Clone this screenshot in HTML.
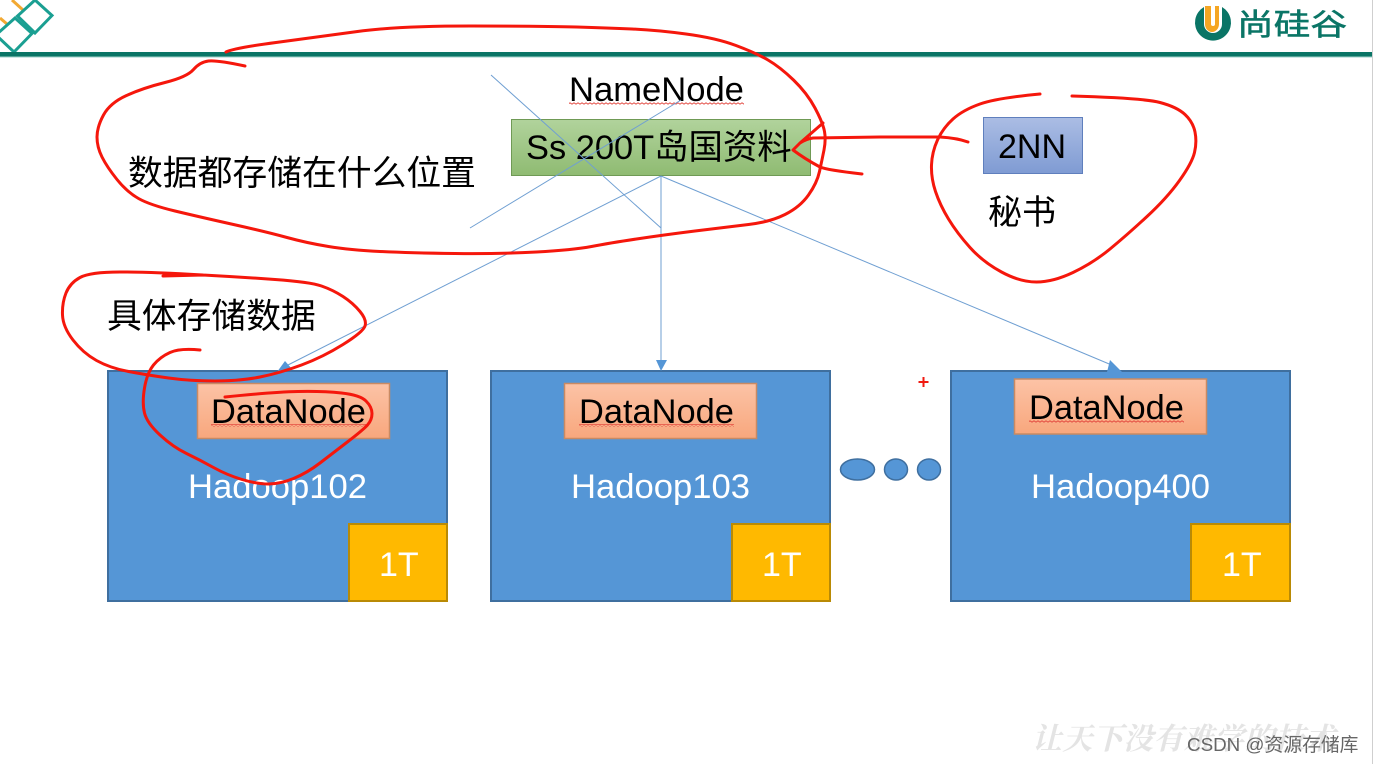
<!DOCTYPE html>
<html lang="zh">
<head>
<meta charset="utf-8">
<style>
html,body{margin:0;padding:0;background:#fff;width:1373px;height:764px;overflow:hidden}
svg{display:block}
text{font-family:"Liberation Sans","Noto Sans CJK SC",sans-serif}
.r{fill:none;stroke:#f5170c;stroke-width:3;stroke-linecap:round;stroke-linejoin:round}
.c{stroke:#6f9fd2;stroke-width:1;fill:none}
</style>
</head>
<body>
<svg width="1373" height="764" viewBox="0 0 1373 764" xmlns="http://www.w3.org/2000/svg">
<defs>
<linearGradient id="g" x1="0" y1="0" x2="0" y2="1"><stop offset="0" stop-color="#b1d39c"/><stop offset="1" stop-color="#8fbb72"/></linearGradient>
<linearGradient id="o" x1="0" y1="0" x2="0" y2="1"><stop offset="0" stop-color="#fcc3a6"/><stop offset="1" stop-color="#f8a77d"/></linearGradient>
<linearGradient id="b" x1="0" y1="0" x2="0" y2="1"><stop offset="0" stop-color="#abbde4"/><stop offset="1" stop-color="#7f9bd3"/></linearGradient>
<pattern id="wv" width="4" height="3" patternUnits="userSpaceOnUse"><path d="M0 2.200L2 0.800L4 2.200" fill="none" stroke="#e2453c" stroke-width="0.900"/></pattern>
</defs>
<rect width="1373" height="764" fill="#fff"/>
<rect x="1372" y="0" width="1" height="764" fill="#cfcfcf"/>

<!-- header -->
<path d="M0 18L7 24M12 0L23 10" fill="none" stroke="#f2a933" stroke-width="3"/>
<path d="M35 0L52 15.500L35 33L17.500 16Z" fill="none" stroke="#1a9f92" stroke-width="3"/>
<path d="M15 18L32 33.500L14 52L-4 35Z" fill="none" stroke="#1a9f92" stroke-width="3"/>
<rect x="0" y="52" width="1372" height="4.500" fill="#0a7566"/>
<rect x="0" y="56.500" width="1372" height="1" fill="#9fd2cb"/>
<path d="M1204 7A18 18 0 1 0 1222 7L1222 24A9 9 0 0 1 1204 24Z" fill="#0a7566"/>
<path d="M1205 6H1211V24A2 2 0 0 0 1215 24V6H1219V24A7 8 0 0 1 1205 24Z" fill="#f5a623"/>
<text x="1237" y="35" font-size="30" fill="#0a7566" stroke="#0a7566" stroke-width="0.500" textLength="110" lengthAdjust="spacingAndGlyphs">尚硅谷</text>

<!-- name node -->
<text x="569" y="101" font-size="34.600" fill="#000">NameNode</text>
<rect x="569" y="102" width="175" height="3" fill="url(#wv)"/>
<rect x="511.500" y="119.500" width="299" height="56" fill="url(#g)" stroke="#6f9a55"/>
<text x="526" y="159" font-size="34.400" fill="#000">Ss 200T岛国资料</text>
<text x="128" y="185" font-size="34.800" fill="#000">数据都存储在什么位置</text>

<!-- 2NN -->
<rect x="983.500" y="117.500" width="99" height="56" fill="url(#b)" stroke="#5f7fbd"/>
<text x="998" y="158" font-size="34" fill="#000">2NN</text>
<text x="988" y="224" font-size="34" fill="#000">秘书</text>
<text x="107" y="328" font-size="34.800" fill="#000">具体存储数据</text>

<!-- connectors -->
<line class="c" x1="491" y1="75" x2="661" y2="228"/>
<line class="c" x1="681" y1="100" x2="470" y2="228"/>
<line class="c" x1="661" y1="176" x2="284" y2="367"/>
<line class="c" x1="661" y1="176" x2="661" y2="364"/>
<line class="c" x1="661" y1="176" x2="1114" y2="366"/>

<!-- data boxes -->
<g stroke="#3f6f9f" stroke-width="2" fill="#5596d6">
<rect x="108" y="371" width="339" height="230"/>
<rect x="491" y="371" width="339" height="230"/>
<rect x="951" y="371" width="339" height="230"/>
</g>
<path d="M285 361L277 372L292 369Z" fill="#5596d6"/>
<path d="M656 360H667L661 371Z" fill="#5596d6"/>
<path d="M1110 360L1122 372H1107Z" fill="#5596d6"/>

<g stroke="#b98a05" stroke-width="2" fill="#ffb900">
<rect x="349" y="524" width="98" height="77"/>
<rect x="732" y="524" width="98" height="77"/>
<rect x="1191" y="524" width="99" height="77"/>
</g>
<g stroke="#c98a63" stroke-width="1.500" fill="url(#o)">
<rect x="197.500" y="383.500" width="192" height="55"/>
<rect x="564.500" y="383.500" width="192" height="55"/>
<rect x="1014.500" y="379" width="192" height="55"/>
</g>
<g font-size="34.400" fill="#000">
<text x="211" y="423">DataNode</text>
<text x="579" y="423">DataNode</text>
<text x="1029" y="419">DataNode</text>
</g>
<rect x="211" y="424" width="155" height="3" fill="url(#wv)"/>
<rect x="579" y="424" width="155" height="3" fill="url(#wv)"/>
<rect x="1029" y="420" width="155" height="3" fill="url(#wv)"/>
<g font-size="34" fill="#fff">
<text x="188" y="498" textLength="179" lengthAdjust="spacingAndGlyphs">Hadoop102</text>
<text x="571" y="498" textLength="179" lengthAdjust="spacingAndGlyphs">Hadoop103</text>
<text x="1031" y="498" textLength="179" lengthAdjust="spacingAndGlyphs">Hadoop400</text>
<text x="379" y="576">1T</text>
<text x="762" y="576">1T</text>
<text x="1222" y="576">1T</text>
</g>
<g fill="#5596d6" stroke="#3f6f9f" stroke-width="1.500">
<ellipse cx="857.500" cy="469.500" rx="17" ry="10.500"/>
<ellipse cx="896" cy="469.500" rx="11.500" ry="10.500"/>
<ellipse cx="929" cy="469.500" rx="11.500" ry="10.500"/>
</g>
<path d="M918.500 382H928.500M923.500 377V387" stroke="#f01a10" stroke-width="2"/>

<!-- red ink -->
<path class="r" d="M226 52Q234 48 276 42.500Q318 37 357.500 31.500Q397 26 471 26Q545 26 576.500 27Q608 28 632 29Q656 30 686 34Q716 38 736 45.500Q756 53 768 60Q780 67 793.500 80Q807 93 815 108Q823 123 824.500 131.500Q826 140 824 150Q822 160 819.500 171.500Q817 183 808.500 195Q800 207 785 214.500Q770 222 748.500 224.500Q727 227 695 231Q663 235 636.500 239Q610 243 591.500 246.500Q573 250 536.500 252Q500 254 455 253.500Q410 253 380 251.500Q350 250 328.500 246.500Q307 243 287 237.500Q267 232 233.500 224.500Q200 217 175 211Q150 205 138.500 198.500Q127 192 117 179.500Q107 167 102 157Q97 147 97 137Q97 127 103.500 115Q110 103 126.500 95.500Q143 88 165 82.500Q187 77 193.500 69.500Q200 62 208.500 61Q217 60 245 66"/>
<path class="r" d="M823 123L800 143L793 150Q805 159 820 167Q827 170 862 174M800 143Q806 139 813 138L880 137L940 137Q957 138 968 142"/>
<path class="r" d="M1040 94Q997 98 980 104Q963 110 953 119Q943 128 937.500 140Q932 152 931.500 165Q931 178 935.500 191.500Q940 205 948.500 219Q957 233 970 247.500Q983 262 1001.500 272Q1020 282 1036.500 282Q1053 282 1073 272.500Q1093 263 1110 249Q1127 235 1147 216.500Q1167 198 1179.500 180.500Q1192 163 1194.500 152.500Q1197 142 1195 132Q1193 122 1185 114.500Q1177 107 1160 102.500Q1143 98 1072 96"/>
<path class="r" d="M163 276L203 275M203 275Q150 272 120 272Q90 272 80 277.500Q70 283 66 293Q62 303 62.500 315Q63 327 73 340Q83 353 96.500 360.500Q110 368 128.500 371.500Q147 375 168.500 378Q190 381 215 381Q240 381 260 377Q280 373 301.500 365Q323 357 343 344.500Q363 332 365 326Q367 320 360 311.500Q353 303 343 296.500Q333 290 321.500 286Q310 282 275 279.500Q240 277 203 275"/>
<path class="r" d="M200 350Q180 348 170 352.500Q160 357 153.500 365Q147 373 144.500 388Q142 403 144.500 413Q147 423 160 435Q173 447 186.500 453.500Q200 460 213.500 467.500Q227 475 242 479.500Q257 484 268.500 484Q280 484 293.500 478.500Q307 473 320 463Q333 453 348 441.500Q363 430 367.500 425Q372 420 372 413.500Q372 407 366 401Q360 395 341.500 393Q323 391 298 391.500Q273 392 225 397"/>

<!-- watermark -->
<text x="1032" y="749" font-size="30" font-weight="700" fill="#e4e4e4" textLength="303" style="font-family:'Noto Serif CJK SC',serif;font-style:italic">让天下没有难学的技术</text>
<text x="1187" y="751" font-size="18.800" fill="#666">CSDN @资源存储库</text>
</svg>
</body>
</html>
